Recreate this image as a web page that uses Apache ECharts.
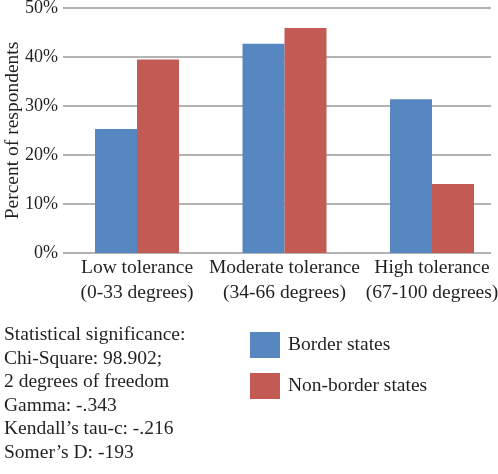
<!DOCTYPE html>
<html lang="en">
<head>
    <meta charset="UTF-8">
    <title>Tolerance by state type</title>
    <script src="https://cdn.jsdelivr.net/npm/echarts@6/dist/echarts.min.js"></script>
    <style>
        body { margin: 0; padding: 0; background: #fff; }
        #chart { width: 498px; height: 474px; }
    </style>
</head>
<body>
<div id="chart"></div>
<script>
    // data
    var categories = ['Low tolerance\n(0-33 degrees)', 'Moderate tolerance\n(34-66 degrees)', 'High tolerance\n(67-100 degrees)']
    var borderStates = [25.3, 42.7, 31.4]
    var nonBorderStates = [39.5, 45.9, 14.1]
    var seriesNames = ['Border states', 'Non-border states']
    var statLines = [
        'Statistical significance:',
        'Chi-Square: 98.902;',
        '2 degrees of freedom',
        'Gamma: -.343',
        'Kendall\u2019s tau-c: -.216',
        'Somer\u2019s D: -193'
    ]

    var font = '"Liberation Serif", "Times New Roman", serif'
    var ink = '#231f20'

    var chart = echarts.init(document.getElementById('chart'))
    chart.setOption({
        animation: false,
        textStyle: { fontFamily: font },
        // grid 0 only carries the gridlines, grid 1 carries the bars
        // (category centres sit on grid 1's edges, so boundaryGap is off)
        grid: [
            { left: 63, top: 8, width: 428, height: 245, outerBoundsMode: 'none' },
            { left: 137, top: 8, width: 295, height: 245, outerBoundsMode: 'none' }
        ],
        xAxis: [
            { type: 'category', gridIndex: 0, data: categories, show: false },
            {
                type: 'category', gridIndex: 1, data: categories, boundaryGap: false,
                axisLine: { show: false }, axisTick: { show: false },
                axisLabel: {
                    color: ink, fontSize: 19.5, lineHeight: 25, margin: 2, fontFamily: font,
                    interval: 0, hideOverlap: false
                }
            }
        ],
        yAxis: [
            {
                type: 'value', gridIndex: 0, min: 0, max: 50, interval: 10,
                name: 'Percent of respondents', nameLocation: 'middle', nameGap: 40,
                nameMoveOverlap: false,
                nameTextStyle: { color: ink, fontSize: 19.5, fontFamily: font },
                axisLabel: { color: ink, fontSize: 18, margin: 5, formatter: '{value}%', fontFamily: font },
                axisLine: { show: false }, axisTick: { show: false },
                splitLine: { lineStyle: { color: '#9a9a9a', width: 1.5 } }
            },
            {
                type: 'value', gridIndex: 1, min: 0, max: 50, interval: 10,
                axisLabel: { show: false }, axisLine: { show: false },
                axisTick: { show: false }, splitLine: { show: false }
            }
        ],
        legend: {
            orient: 'vertical', left: 245, top: 327,
            itemWidth: 30, itemHeight: 26, itemGap: 15,
            icon: 'rect',
            textStyle: { color: ink, fontSize: 19.5, fontFamily: font, padding: [0, 0, 0, 3] },
            data: seriesNames
        },
        graphic: [{
            type: 'text', left: 4, top: 323,
            style: {
                text: statLines.join('\n'),
                font: '19.5px ' + font,
                lineHeight: 23.6,
                fill: ink
            }
        }],
        series: [
            {
                name: seriesNames[0], type: 'bar', xAxisIndex: 1, yAxisIndex: 1,
                data: borderStates, barWidth: 42, barGap: '0%', clip: false,
                itemStyle: { color: '#5687c1' }
            },
            {
                name: seriesNames[1], type: 'bar', xAxisIndex: 1, yAxisIndex: 1,
                data: nonBorderStates, barWidth: 42, barGap: '0%', clip: false,
                itemStyle: { color: '#c45a54' }
            }
        ]
    })
</script>
</body>
</html>
